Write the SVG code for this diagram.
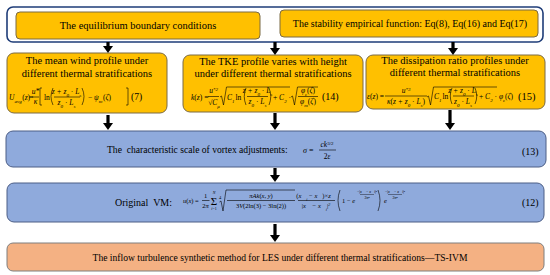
<svg xmlns="http://www.w3.org/2000/svg" width="550" height="275" viewBox="0 0 550 275" font-family="'Liberation Serif', 'DejaVu Serif', serif">
<style>
svg text{font-family:"Liberation Serif","DejaVu Serif",serif;fill:#000}
.t{font-size:10px;text-anchor:middle}
.m{font-size:7.5px;font-style:italic}
.mn{font-size:7.5px;font-style:normal}
.c{text-anchor:middle}
.s{font-size:5px;baseline-shift:sub}
.p{font-size:5px;baseline-shift:super}
.yb{fill:#FFC000;stroke:#7A6A45;stroke-width:1}
.bb{fill:#8FAADC;stroke:#4C5E86;stroke-width:1}
.ob{fill:#F4B183;stroke:#7F7F7F;stroke-width:1}
.ln{fill:none;stroke:#000;stroke-width:0.6}
.pre{white-space:pre}
.arr{stroke:#000;stroke-width:3.2;fill:none;marker-end:url(#ah)}
</style>
<defs>
<marker id="ah" markerUnits="userSpaceOnUse" markerWidth="7" markerHeight="10" refX="0.5" refY="5" orient="auto" viewBox="0 0 7 10">
<path d="M0,0 L7,5 L0,10 Z" fill="#000"/>
</marker>
</defs>

<g id="frame">
<rect x="7" y="7" width="536" height="35" rx="6" fill="#fff" stroke="#1E3C78" stroke-width="1.6"/>
</g>

<g id="n-equilibrium">
<rect class="yb" x="16" y="12" width="244" height="27" rx="4"/>
<text class="t" x="138" y="29" style="font-size:10.5px">The equilibrium boundary conditions</text>
</g>

<g id="n-stability">
<rect class="yb" x="280" y="10" width="258" height="27" rx="4"/>
<text class="t" x="410" y="27">The stability empirical function: Eq(8), Eq(16) and Eq(17)</text>
</g>

<g id="n-wind">
<rect class="yb" x="7" y="53" width="160" height="60" rx="7"/>
<text class="t" x="87" y="64" style="font-size:10.5px">The mean wind profile under</text>
<text class="t" x="87" y="76.5" style="font-size:10.5px">different thermal stratifications</text>
<text class="m" x="9" y="100">U<tspan class="s">avg</tspan><tspan class="mn" dx="0.5">(</tspan>z<tspan class="mn">)</tspan></text>
<text class="mn" x="29" y="100">=</text>
<text class="m c" x="35.5" y="93.5">u*</text>
<path class="ln" d="M32,97 H39"/>
<text class="m c" x="35.5" y="104">κ</text>
<path class="ln" d="M42,88 H40 V105 H42"/>
<text class="mn" x="44" y="100">ln</text>
<path class="ln" d="M53,88 Q49,96.5 53,105"/>
<text class="m c" x="66.5" y="93.5">z + z<tspan class="s">0</tspan><tspan class="mn"> · </tspan>L<tspan class="s">s</tspan></text>
<path class="ln" d="M54,97 H80"/>
<text class="m c" x="66.5" y="104.5">z<tspan class="s">0</tspan><tspan class="mn"> · </tspan>L<tspan class="s">s</tspan></text>
<path class="ln" d="M82,88 Q86,96.5 82,105"/>
<text class="m" x="88" y="100"><tspan class="mn">− </tspan>ψ<tspan class="s">m</tspan><tspan class="mn" dx="0.5">(</tspan>ζ<tspan class="mn">)</tspan></text>
<path class="ln" d="M126,88 H128 V105 H126"/>
<text class="mn" x="131" y="100" style="font-size:9.5px">(7)</text>
</g>

<g id="n-tke">
<rect class="yb" x="183" y="55" width="180" height="57" rx="7"/>
<text class="t" x="273" y="65" style="font-size:10.5px">The TKE profile varies with height</text>
<text class="t" x="273" y="77" style="font-size:10.5px">under different thermal stratifications</text>
<text class="m" x="191" y="100">k<tspan class="mn">(</tspan>z<tspan class="mn">) =</tspan></text>
<text class="m c" x="213.5" y="93">u<tspan class="p">*2</tspan></text>
<path class="ln" d="M208,96.5 H219"/>
<text class="m c" x="214" y="104.5"><tspan class="mn">√</tspan>C<tspan class="s">μ</tspan></text>
<path class="ln" d="M220,97 L221.5,96 L223.5,105 L226.5,87 H290"/>
<text class="m" x="227" y="100">C<tspan class="s">1</tspan><tspan class="mn" dx="1">ln</tspan></text>
<path class="ln" d="M246,88 Q242.5,96.5 246,105"/>
<text class="m c" x="257.5" y="93">z + z<tspan class="s">0</tspan><tspan class="mn"> · </tspan>L<tspan class="s">s</tspan></text>
<path class="ln" d="M247,96.5 H268"/>
<text class="m c" x="257.5" y="104">z<tspan class="s">0</tspan><tspan class="mn"> · </tspan>L<tspan class="s">s</tspan></text>
<path class="ln" d="M269,88 Q272.5,96.5 269,105"/>
<text class="m" x="273" y="100"><tspan class="mn">+ </tspan>C<tspan class="s">2</tspan><tspan class="mn"> ·</tspan></text>
<path class="ln" d="M291,97 L292.5,96 L294.5,105 L297.5,87 H318"/>
<text class="m c" x="308" y="93">φ<tspan class="s">ε</tspan><tspan class="mn">(</tspan>ζ<tspan class="mn">)</tspan></text>
<path class="ln" d="M298,96.5 H318"/>
<text class="m c" x="308" y="104">φ<tspan class="s">m</tspan><tspan class="mn">(</tspan>ζ<tspan class="mn">)</tspan></text>
<text class="mn" x="322" y="100" style="font-size:10px">(14)</text>
</g>

<g id="n-dissipation">
<rect class="yb" x="366" y="55" width="179" height="54" rx="7"/>
<text class="t" x="455" y="64" style="font-size:10.5px">The dissipation ratio profiles under</text>
<text class="t" x="455" y="76" style="font-size:10.5px">different thermal stratifications</text>
<text class="m" x="367" y="99">ε<tspan class="mn">(</tspan>z<tspan class="mn">) =</tspan></text>
<text class="m c" x="406" y="92.5">u<tspan class="p">*3</tspan></text>
<path class="ln" d="M385,96 H427"/>
<text class="m c" x="406" y="104">κ<tspan class="mn">(</tspan>z + z<tspan class="s">0</tspan><tspan class="mn"> · </tspan>L<tspan class="s">s</tspan><tspan class="mn">)</tspan></text>
<path class="ln" d="M427,97 L428.5,96 L430.5,105 L433.5,87 H497"/>
<text class="m" x="434" y="99">C<tspan class="s">1</tspan><tspan class="mn" dx="1">ln</tspan></text>
<path class="ln" d="M452,88 Q448.5,96 452,104"/>
<text class="m c" x="463" y="92.5">z + z<tspan class="s">0</tspan><tspan class="mn"> · </tspan>L<tspan class="s">s</tspan></text>
<path class="ln" d="M453,96 H474"/>
<text class="m c" x="463" y="103.5">z<tspan class="s">0</tspan><tspan class="mn"> · </tspan>L<tspan class="s">s</tspan></text>
<path class="ln" d="M475,88 Q478.5,96 475,104"/>
<text class="m" x="479" y="99"><tspan class="mn">+ </tspan>C<tspan class="s">2</tspan><tspan class="mn"> · </tspan>φ<tspan class="s">ε</tspan><tspan class="mn">(</tspan>ζ<tspan class="mn">)</tspan></text>
<text class="mn" x="518" y="99.5" style="font-size:10.5px">(15)</text>
</g>

<g id="n-scale">
<rect class="bb" x="6" y="131" width="540" height="36" rx="7"/>
<text class="pre" x="107" y="153" style="font-size:9.6px">The  characteristic scale of vortex adjustments:</text>
<text class="m" x="303" y="153" style="font-size:8px">σ<tspan class="mn" style="font-size:8px"> =</tspan></text>
<text class="m c" x="327" y="147">ck<tspan class="p" style="font-style:normal">3/2</tspan></text>
<path class="ln" d="M319,150 H336"/>
<text class="m c" x="327" y="159"><tspan class="mn">2</tspan>ε</text>
<text class="mn" x="522" y="155" style="font-size:10px">(13)</text>
</g>

<g id="n-vm">
<rect class="bb" x="7" y="183" width="537" height="39" rx="7"/>
<text class="pre" x="115" y="205.5" style="font-size:10px">Original  VM:</text>
<text class="m" x="183" y="203" style="font-size:6.5px">u<tspan class="mn" style="font-size:6.5px">(</tspan>x<tspan class="mn" style="font-size:6.5px">) =</tspan></text>
<text class="mn c" x="205.5" y="198" style="font-size:6.5px">1</text>
<path class="ln" d="M202,200.5 H209.5"/>
<text class="m c" x="205.5" y="207.5" style="font-size:6.5px"><tspan class="mn" style="font-size:6.5px">2</tspan>π</text>
<text class="mn c" x="214" y="205" style="font-size:11px">Σ</text>
<text class="m c" x="214" y="194" style="font-size:4px">N</text>
<text class="m c" x="214" y="210" style="font-size:4px">i<tspan class="mn" style="font-size:4px">=1</tspan></text>
<text class="mn" x="219" y="199" style="font-size:4.5px">4</text>
<path class="ln" d="M219.5,202 L221,201 L223,211 L226,190 H295"/>
<text class="m c" x="261" y="197.5" style="font-size:6.5px">πAk<tspan class="mn" style="font-size:6.5px">(</tspan>x<tspan class="mn" style="font-size:6.5px">, </tspan>y<tspan class="mn" style="font-size:6.5px">)</tspan></text>
<path class="ln" d="M227,200.5 H295"/>
<text class="m c" x="261" y="207.5" style="font-size:6.5px"><tspan class="mn" style="font-size:6.5px">3</tspan>V<tspan class="mn" style="font-size:6.5px">(2ln(3) − 3ln(2))</tspan></text>
<text class="m c" x="316" y="197.5" style="font-size:6.5px"><tspan class="mn" style="font-size:6.5px">(</tspan>x⃗<tspan class="s" style="font-size:4px">i</tspan><tspan class="mn" style="font-size:6.5px"> − </tspan>x⃗<tspan class="mn" style="font-size:6.5px">)×</tspan>z⃗</text>
<path class="ln" d="M298,200.5 H335"/>
<text class="m c" x="316" y="208" style="font-size:6.5px"><tspan class="mn" style="font-size:6.5px">|</tspan>x⃗<tspan class="mn" style="font-size:6.5px"> − </tspan>x⃗<tspan class="s" style="font-size:4px">i</tspan><tspan class="mn" style="font-size:6.5px">|</tspan><tspan class="p" style="font-size:4px">2</tspan></text>
<path class="ln" d="M340,190 Q336,200.5 340,211"/>
<text class="m" x="342" y="203" style="font-size:6.5px"><tspan class="mn" style="font-size:6.5px">1 − </tspan>e</text>
<text class="m c" x="367" y="193" style="font-size:4px"><tspan class="mn" style="font-size:4px">−|</tspan>x⃗<tspan class="mn" style="font-size:4px"> − </tspan>x⃗<tspan class="mn" style="font-size:3px">i</tspan><tspan class="mn" style="font-size:4px">|²</tspan></text>
<path class="ln" d="M360,194.5 H374" style="stroke-width:0.4"/>
<text class="m c" x="367" y="198.5" style="font-size:4px"><tspan class="mn" style="font-size:4px">2</tspan>σ<tspan class="mn" style="font-size:4px">²</tspan></text>
<path class="ln" d="M378,190 Q382,200.5 378,211"/>
<text class="m" x="384" y="203" style="font-size:6.5px">e</text>
<text class="m c" x="395" y="193" style="font-size:4px"><tspan class="mn" style="font-size:4px">−|</tspan>x⃗<tspan class="mn" style="font-size:4px"> − </tspan>x⃗<tspan class="mn" style="font-size:3px">i</tspan><tspan class="mn" style="font-size:4px">|²</tspan></text>
<path class="ln" d="M388,194.5 H402" style="stroke-width:0.4"/>
<text class="m c" x="395" y="198.5" style="font-size:4px"><tspan class="mn" style="font-size:4px">2</tspan>σ<tspan class="mn" style="font-size:4px">²</tspan></text>
<text class="mn" x="522" y="206" style="font-size:10px">(12)</text>
</g>

<g id="n-result">
<rect class="ob" x="7" y="243" width="537" height="28" rx="6"/>
<text class="t" x="280" y="261" style="font-size:9.6px">The inflow turbulence synthetic method for LES under different thermal stratifications—TS-IVM</text>
</g>

<g id="connectors">
<path class="arr" d="M108,42 V46.5"/>
<path class="arr" d="M275,42 V48.5"/>
<path class="arr" d="M453,42 V48.5"/>
<path class="arr" d="M108,115 V123.5"/>
<path class="arr" d="M275,113 V123.5"/>
<path class="arr" d="M450,110 V123.5"/>
<path class="arr" d="M275,168 V175.5"/>
<path class="arr" d="M275,224 V235.5"/>
</g>
</svg>
